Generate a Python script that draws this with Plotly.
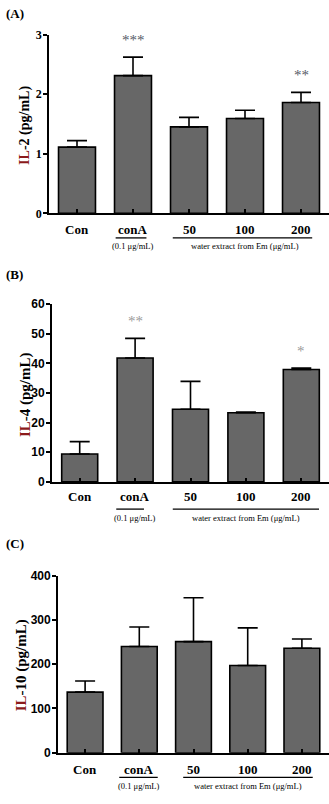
import plotly.graph_objects as go

categories = ["Con", "conA", "50", "100", "200"]
il2_mean = [1.11, 2.31, 1.45, 1.59, 1.86]
il2_err = [0.11, 0.31, 0.16, 0.14, 0.17]
il4_mean = [9.4, 41.8, 24.5, 23.3, 37.9]
il4_err = [4.2, 6.6, 9.4, 0.3, 0.5]
il10_mean = [137, 240, 251, 197, 236]
il10_err = [25, 44, 99, 85, 21]
il2_sig = ["", "***", "", "", "**"]
il4_sig = ["", "**", "", "", "*"]
il10_sig = ["", "", "", "", ""]

W, H = 329, 804
SERIF = "Liberation Serif"
SANS = "Liberation Sans"

panels = [
    dict(mean=il2_mean, err=il2_err, sig=il2_sig, sigcolor="#555a66", title="IL-2 (pg/mL)",
         yr=[0, 3], dtick=1, y0=210, y1=28, xl=49, tickfont=SERIF, tfs=12,
         title_x=25, title_y=121, title_fs=14, label_y=226, line_y=235, sub_y=243,
         conA_line=(0.69, 1.24), water_line=(1.71, 4.2), panel="(A)", panel_y=7, bw=0.66),
    dict(mean=il4_mean, err=il4_err, sig=il4_sig, sigcolor="#9a9a9a", title="IL-4 (pg/mL)",
         yr=[0, 60], dtick=10, y0=483.3, y1=302.3, xl=52, tickfont=SANS, tfs=12,
         title_x=25, title_y=395, title_fs=15, label_y=498, line_y=511, sub_y=520,
         conA_line=(0.66, 1.16), water_line=(1.68, 4.32), panel="(B)", panel_y=272, bw=0.65),
    dict(mean=il10_mean, err=il10_err, sig=il10_sig, sigcolor="#555", title="IL-10 (pg/mL)",
         yr=[0, 400], dtick=100, y0=759, y1=578.7, xl=58, tickfont=SANS, tfs=12,
         title_x=21, title_y=670, title_fs=15, label_y=776, line_y=784, sub_y=793,
         conA_line=(0.63, 1.34), water_line=(1.81, 4.2), panel="(C)", panel_y=546, bw=0.66),
]

fig = go.Figure()
annotations = []
shapes = []
xs = list(range(len(categories)))

for i, p in enumerate(panels):
    n = "" if i == 0 else str(i + 1)
    xa, ya = "x" + n, "y" + n
    fig.add_trace(go.Bar(
        x=xs, y=p["mean"], xaxis=xa, yaxis=ya, width=p["bw"],
        marker=dict(color="#676767", line=dict(color="black", width=1.6)),
        error_y=dict(type="data", symmetric=False, array=p["err"],
                     arrayminus=[0] * len(xs), color="black", thickness=1.6, width=10),
        showlegend=False, hoverinfo="skip"))
    dom_y = [1 - p["y0"] / H, 1 - p["y1"] / H]
    fig.layout["xaxis" + n] = dict(
        domain=[p["xl"] / W, 1], range=[-0.5, 4.5], anchor=ya,
        showline=True, linecolor="black", linewidth=1.8, showgrid=False, zeroline=False,
        tickmode="array", tickvals=xs, ticktext=[""] * 5, ticks="inside", ticklen=4,
        tickwidth=1.5, tickcolor="black")
    fig.layout["yaxis" + n] = dict(
        domain=dom_y, range=p["yr"], dtick=p["dtick"], anchor=xa,
        showline=True, linecolor="black", linewidth=1.8, showgrid=False, zeroline=False,
        ticks="outside", ticklen=4, tickwidth=1.5, tickcolor="black", ticklabelstandoff=-1,
        tickfont=dict(family=p["tickfont"], size=p["tfs"], color="black", weight="bold"))
    t = p["title"]
    annotations.append(dict(
        xref="paper", yref="paper", x=p["title_x"] / W, y=1 - p["title_y"] / H,
        text="<b><span style='color:#8b1a1a'>IL</span>" + t[2:] + "</b>",
        textangle=-90, showarrow=False, xanchor="center", yanchor="middle",
        font=dict(family=SERIF, size=p["title_fs"], color="black")))
    for j, c in enumerate(categories):
        annotations.append(dict(
            xref=xa, yref="paper", x=j, y=1 - p["label_y"] / H, text="<b>" + c + "</b>",
            showarrow=False, xanchor="center", yanchor="middle",
            font=dict(family=SERIF, size=13, color="black")))
    annotations.append(dict(
        xref=xa, yref="paper", x=1, y=1 - p["sub_y"] / H, text="(0.1 μg/mL)",
        showarrow=False, xanchor="center", yanchor="middle",
        font=dict(family=SERIF, size=8.5, color="black")))
    annotations.append(dict(
        xref=xa, yref="paper", x=3, y=1 - p["sub_y"] / H, text="water extract from Em (μg/mL)",
        showarrow=False, xanchor="center", yanchor="middle",
        font=dict(family=SERIF, size=8.5, color="black")))
    for (a, b) in (p["conA_line"], p["water_line"]):
        shapes.append(dict(type="line", xref=xa, yref="paper", x0=a, x1=b,
                           y0=1 - p["line_y"] / H, y1=1 - p["line_y"] / H,
                           line=dict(color="black", width=1.3)))
    for j, s in enumerate(p["sig"]):
        if s:
            annotations.append(dict(
                xref=xa, yref=ya, x=j, y=p["mean"][j] + p["err"][j], text=s,
                showarrow=False, xanchor="center", yanchor="middle", yshift=17,
                font=dict(family=SERIF, size=15, color=p["sigcolor"])))
    annotations.append(dict(
        xref="paper", yref="paper", x=4 / W, y=1 - p["panel_y"] / H, text="<b>" + p["panel"] + "</b>",
        showarrow=False, xanchor="left", yanchor="middle",
        font=dict(family=SERIF, size=13, color="black")))

fig.update_layout(
    width=W, height=H, margin=dict(l=0, r=0, t=0, b=0),
    paper_bgcolor="white", plot_bgcolor="white",
    annotations=annotations, shapes=shapes, bargap=0.3)

fig.write_html("out.html")
